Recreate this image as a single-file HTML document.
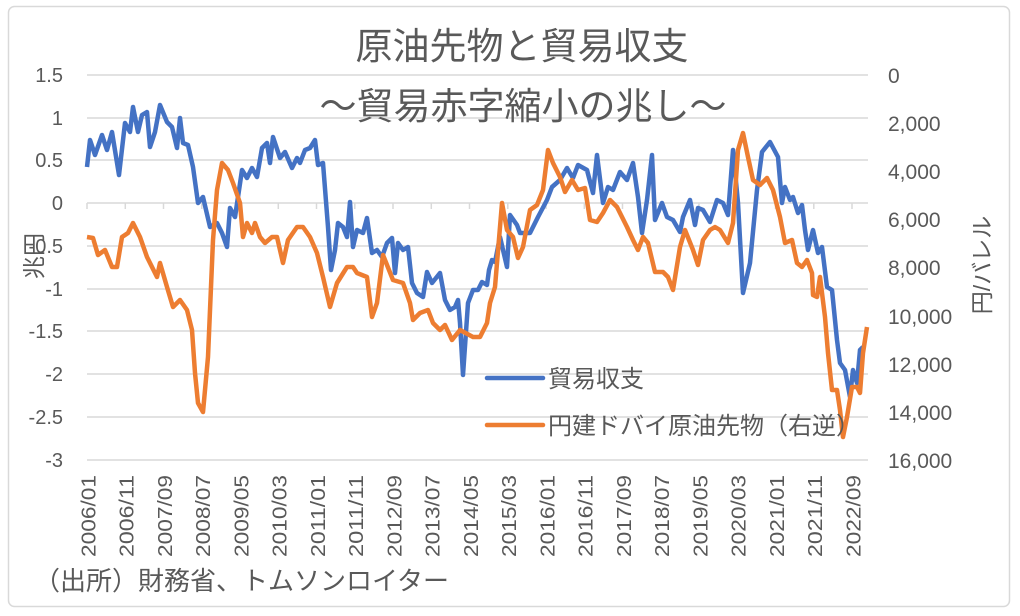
<!DOCTYPE html>
<html><head><meta charset="utf-8"><style>
html,body{margin:0;padding:0;background:#fff;}
svg{display:block;font-family:"Liberation Sans","Noto Sans CJK JP",sans-serif;}
</style></head><body>
<svg width="1020" height="616" viewBox="0 0 1020 616" xmlns="http://www.w3.org/2000/svg">
<rect x="0" y="0" width="1020" height="616" fill="#fff"/>
<rect x="8.5" y="6.5" width="1001" height="600" rx="6" fill="#fff" stroke="#d9d9d9" stroke-width="1.5"/>
<g stroke="#d9d9d9" stroke-width="1.5">
<line x1="87" y1="75" x2="868" y2="75"/><line x1="87" y1="118" x2="868" y2="118"/>
<line x1="87" y1="160" x2="868" y2="160"/><line x1="87" y1="203" x2="868" y2="203"/>
<line x1="87" y1="246" x2="868" y2="246"/><line x1="87" y1="289" x2="868" y2="289"/>
<line x1="87" y1="331" x2="868" y2="331"/><line x1="87" y1="374" x2="868" y2="374"/>
<line x1="87" y1="417" x2="868" y2="417"/><line x1="87" y1="460" x2="868" y2="460"/>
<path d="M87 203v6M125.3 203v6M163.5 203v6M201.8 203v6M240 203v6M278.3 203v6M316.5 203v6M354.8 203v6M393 203v6M431.3 203v6M469.5 203v6M507.8 203v6M546 203v6M584.3 203v6M622.5 203v6M660.8 203v6M699 203v6M737.3 203v6M775.5 203v6M813.8 203v6M852 203v6"/>
</g>
<g fill="#595959" font-size="20" text-anchor="end">
<text x="63" y="82">1.5</text><text x="63" y="125">1</text><text x="63" y="167">0.5</text>
<text x="63" y="210">0</text><text x="63" y="253">-0.5</text><text x="63" y="296">-1</text>
<text x="63" y="338">-1.5</text><text x="63" y="381">-2</text><text x="63" y="424">-2.5</text><text x="63" y="467">-3</text>
</g>
<g fill="#595959" font-size="21">
<text x="888" y="83">0</text><text x="888" y="131">2,000</text><text x="888" y="179">4,000</text>
<text x="888" y="227">6,000</text><text x="888" y="275">8,000</text><text x="888" y="324">10,000</text>
<text x="888" y="372">12,000</text><text x="888" y="420">14,000</text><text x="888" y="468">16,000</text>
</g>
<g fill="#595959" font-size="20" dominant-baseline="middle">
<text transform="translate(90,557) rotate(-90)" textLength="82" lengthAdjust="spacingAndGlyphs">2006/01</text>
<text transform="translate(128.3,557) rotate(-90)" textLength="82" lengthAdjust="spacingAndGlyphs">2006/11</text>
<text transform="translate(166.5,557) rotate(-90)" textLength="82" lengthAdjust="spacingAndGlyphs">2007/09</text>
<text transform="translate(204.8,557) rotate(-90)" textLength="82" lengthAdjust="spacingAndGlyphs">2008/07</text>
<text transform="translate(243,557) rotate(-90)" textLength="82" lengthAdjust="spacingAndGlyphs">2009/05</text>
<text transform="translate(281.3,557) rotate(-90)" textLength="82" lengthAdjust="spacingAndGlyphs">2010/03</text>
<text transform="translate(319.5,557) rotate(-90)" textLength="82" lengthAdjust="spacingAndGlyphs">2011/01</text>
<text transform="translate(357.8,557) rotate(-90)" textLength="82" lengthAdjust="spacingAndGlyphs">2011/11</text>
<text transform="translate(396,557) rotate(-90)" textLength="82" lengthAdjust="spacingAndGlyphs">2012/09</text>
<text transform="translate(434.3,557) rotate(-90)" textLength="82" lengthAdjust="spacingAndGlyphs">2013/07</text>
<text transform="translate(472.5,557) rotate(-90)" textLength="82" lengthAdjust="spacingAndGlyphs">2014/05</text>
<text transform="translate(510.8,557) rotate(-90)" textLength="82" lengthAdjust="spacingAndGlyphs">2015/03</text>
<text transform="translate(549,557) rotate(-90)" textLength="82" lengthAdjust="spacingAndGlyphs">2016/01</text>
<text transform="translate(587.3,557) rotate(-90)" textLength="82" lengthAdjust="spacingAndGlyphs">2016/11</text>
<text transform="translate(625.5,557) rotate(-90)" textLength="82" lengthAdjust="spacingAndGlyphs">2017/09</text>
<text transform="translate(663.8,557) rotate(-90)" textLength="82" lengthAdjust="spacingAndGlyphs">2018/07</text>
<text transform="translate(702,557) rotate(-90)" textLength="82" lengthAdjust="spacingAndGlyphs">2019/05</text>
<text transform="translate(740.3,557) rotate(-90)" textLength="82" lengthAdjust="spacingAndGlyphs">2020/03</text>
<text transform="translate(778.5,557) rotate(-90)" textLength="82" lengthAdjust="spacingAndGlyphs">2021/01</text>
<text transform="translate(816.8,557) rotate(-90)" textLength="82" lengthAdjust="spacingAndGlyphs">2021/11</text>
<text transform="translate(855,557) rotate(-90)" textLength="82" lengthAdjust="spacingAndGlyphs">2022/09</text>
</g>
<text transform="translate(36,256) rotate(-90)" fill="#595959" font-size="23" text-anchor="middle" dominant-baseline="middle">兆円</text>
<text transform="translate(984,265) rotate(-90)" fill="#595959" font-size="23" text-anchor="middle" dominant-baseline="middle">円/バレル</text>
<text x="522" y="59" fill="#595959" font-size="37" text-anchor="middle">原油先物と貿易収支</text>
<text x="523" y="119" fill="#595959" font-size="37" text-anchor="middle">～貿易赤字縮小の兆し～</text>
<text x="34" y="590" fill="#595959" font-size="26">（出所）財務省、トムソンロイター</text>
<polyline fill="none" stroke="#4472c4" stroke-width="4.5" stroke-linejoin="round" points="87,167 90,140 95,155 102,135 107,150 112,132 119,175 125,123 130,132 133,107 138,132 142,115 147,112 150,147 155,132 160,105 167,122 172,127 177,148 180,118 183,143 188,145 193,167 198,203 203,197 210,227 217,223 222,233 227,247 230,208 235,217 238,197 242,170 247,178 252,168 257,177 262,148 267,143 270,163 273,137 280,158 285,152 292,168 297,158 300,163 305,150 310,148 315,140 318,165 323,163 328,227 331,270 335,250 338,223 343,227 347,237 350,202 353,247 357,230 363,233 367,218 372,253 377,250 382,257 387,243 392,238 395,273 398,243 403,250 408,247 412,283 417,293 423,297 427,272 432,283 440,273 445,300 450,310 455,307 458,300 460,323 463,375 468,303 473,290 478,290 482,282 487,285 489,270 492,260 495,262 500,237 507,267 510,215 517,225 520,233 530,233 538,217 547,200 552,187 560,180 567,168 573,178 578,165 587,170 593,193 597,155 603,203 608,187 613,190 620,172 627,180 633,163 638,197 642,233 647,200 652,155 655,220 662,203 667,217 673,220 680,232 683,217 690,200 695,225 698,208 703,210 710,222 717,200 723,203 728,215 733,150 738,203 743,293 750,263 757,190 762,152 770,142 778,157 782,203 785,187 790,200 793,197 798,213 802,205 805,230 808,250 813,230 818,253 822,247 827,287 832,290 837,340 840,363 845,370 850,397 853,370 857,383 860,350 863,347"/>
<polyline fill="none" stroke="#ed7d31" stroke-width="4.5" stroke-linejoin="round" points="87,237 93,238 98,255 105,250 112,267 117,267 122,237 128,233 133,223 140,237 147,257 152,267 157,277 160,263 167,287 173,307 180,300 187,310 192,330 195,373 198,403 203,412 208,357 213,240 217,190 222,163 228,170 233,183 240,203 243,237 247,223 252,233 255,223 260,237 265,243 272,237 277,237 283,263 288,240 297,227 303,227 310,237 317,253 323,277 330,307 337,283 347,267 353,267 357,273 367,277 372,317 377,303 383,255 393,280 403,283 410,303 413,320 420,313 428,310 433,323 440,330 445,325 452,340 460,330 473,337 480,337 487,323 490,303 495,287 502,203 507,230 513,237 518,258 523,247 530,210 537,205 543,190 548,150 553,163 560,177 565,192 572,180 578,190 585,188 590,220 597,222 603,213 610,200 617,207 627,227 633,240 638,250 643,237 648,243 655,272 663,272 668,277 673,290 680,247 685,230 693,250 698,265 703,240 710,230 715,227 720,230 728,243 733,223 738,150 743,133 748,157 753,180 760,185 767,178 773,190 780,217 785,243 792,240 797,263 802,267 807,260 812,273 813,295 817,297 820,277 825,317 828,353 832,390 837,390 840,410 843,437 847,417 852,387 857,387 860,393 863,353 867,327"/>
<line x1="487" y1="378" x2="543" y2="378" stroke="#4472c4" stroke-width="4.5" stroke-linecap="round"/>
<line x1="487" y1="425" x2="543" y2="425" stroke="#ed7d31" stroke-width="4.5" stroke-linecap="round"/>
<text x="548" y="387" fill="#595959" font-size="24">貿易収支</text>
<text x="548" y="434" fill="#595959" font-size="24">円建ドバイ原油先物（右逆）</text>
</svg>
</body></html>
